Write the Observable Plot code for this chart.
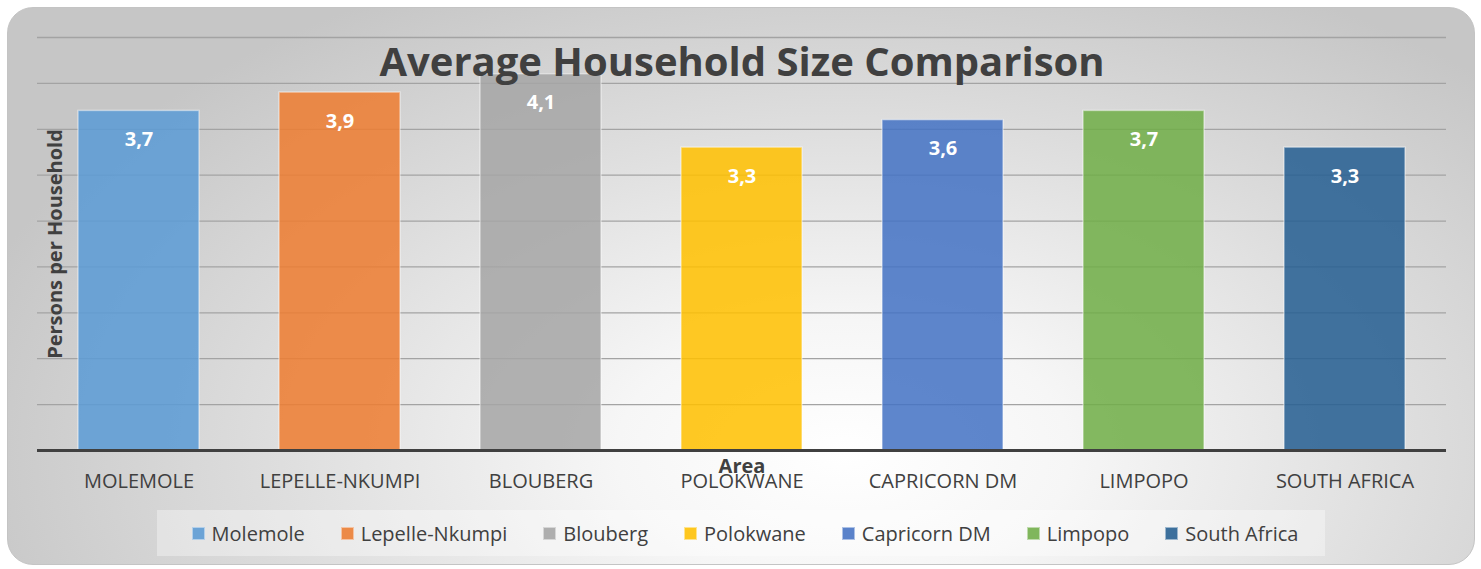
<!DOCTYPE html>
<html>
<head>
<meta charset="utf-8">
<script src="https://cdn.jsdelivr.net/npm/d3@7"></script>
<script src="https://cdn.jsdelivr.net/npm/@observablehq/plot@0.6"></script>
<style>
  html, body { margin: 0; padding: 0; background: #ffffff; }
  #wrap { position: relative; width: 1481px; height: 569px; overflow: hidden; font-family: "Open Sans", sans-serif; }
  #bg { position: absolute; left: 7px; top: 7px; width: 1468px; height: 558px; border-radius: 26px;
        border: 1px solid #c4c4c4; box-sizing: border-box;
        background: radial-gradient(ellipse 62% 95% at 57% 80%, #ffffff 0%, #f6f6f6 25%, #dcdcdc 65%, #c6c6c6 100%); }
  #chart { position: absolute; left: 0; top: 0; }
  #legend { position: absolute; left: 157px; top: 510px; width: 1168px; height: 46px; box-sizing: border-box;
            background: rgba(255,255,255,0.35); display: flex; align-items: center; justify-content: center;
            gap: 36px; padding-left: 8px; font-size: 20px; color: #404040; }
  .item { display: flex; align-items: center; gap: 7px; white-space: nowrap; }
  .sw { width: 13px; height: 13px; box-sizing: border-box; border: 1px solid rgba(255,255,255,0.5); }
</style>
</head>
<body>
<div id="wrap">
  <div id="bg"></div>
  <div id="chart"></div>
  <div id="legend"></div>
</div>
<script>
const categories = ["Molemole", "Lepelle-Nkumpi", "Blouberg", "Polokwane", "Capricorn DM", "Limpopo", "South Africa"];
const values = [3.7, 3.9, 4.1, 3.3, 3.6, 3.7, 3.3];
const colors = ["#5B9BD5", "#ED7D31", "#A5A5A5", "#FFC000", "#4472C4", "#70AD47", "#255E91"];
const yTicks = [0.5, 1, 1.5, 2, 2.5, 3, 3.5, 4, 4.5];
const titleText = "Average Household Size Comparison";
const xLabel = "Area";
const yLabel = "Persons per Household";

const data = categories.map((c, i) => ({area: c, value: values[i]}));
const fmt = v => d3.format(".1f")(v).replace(".", ",");

const chart = Plot.plot({
  width: 1481,
  height: 569,
  marginTop: 37,
  marginBottom: 119,
  marginLeft: 37,
  marginRight: 35,
  style: {background: "transparent", fontFamily: "Open Sans, sans-serif", color: "#404040", overflow: "visible"},
  x: {domain: categories, paddingInner: 0.4, paddingOuter: 0.2, label: null},
  y: {domain: [0, 4.5], axis: null},
  color: {domain: categories, range: colors},
  marks: [
    Plot.gridY(yTicks, {stroke: "#a3a3a3", strokeOpacity: 1, strokeWidth: 1.3}),
    Plot.barY(data, {x: "area", y: "value", fill: "area", fillOpacity: 0.86, stroke: "#ffffff", strokeOpacity: 0.45, strokeWidth: 1.5}),
    Plot.ruleY([0], {stroke: "#404040", strokeWidth: 3}),
    Plot.axisX({tickSize: 0, tickPadding: 23, fontSize: 20, tickFormat: d => d.toUpperCase(), label: null}),
    Plot.text(data, {x: "area", y: "value", text: d => fmt(d.value), lineAnchor: "top", dy: 21, fill: "white", fontWeight: "bold", fontSize: 20}),
    Plot.text([titleText], {text: d => d, frameAnchor: "top", lineAnchor: "bottom", dy: 38, fontSize: 40, fontWeight: "bold", fill: "#404040"}),
    Plot.text([xLabel], {text: d => d, frameAnchor: "bottom", lineAnchor: "bottom", dy: 22, fontSize: 20, fontWeight: "bold", fill: "#404040"}),
    Plot.text([yLabel], {text: d => d, frameAnchor: "left", textAnchor: "middle", lineAnchor: "middle", rotate: -90, dx: 18, fontSize: 20, fontWeight: "bold", fill: "#404040"})
  ]
});
document.getElementById("chart").appendChild(chart);

const legend = document.getElementById("legend");
categories.forEach((c, i) => {
  const it = document.createElement("div");
  it.className = "item";
  const sw = document.createElement("span");
  sw.className = "sw";
  sw.style.background = colors[i];
  sw.style.opacity = 0.88;
  const tx = document.createElement("span");
  tx.textContent = c;
  it.appendChild(sw);
  it.appendChild(tx);
  legend.appendChild(it);
});
</script>
</body>
</html>
